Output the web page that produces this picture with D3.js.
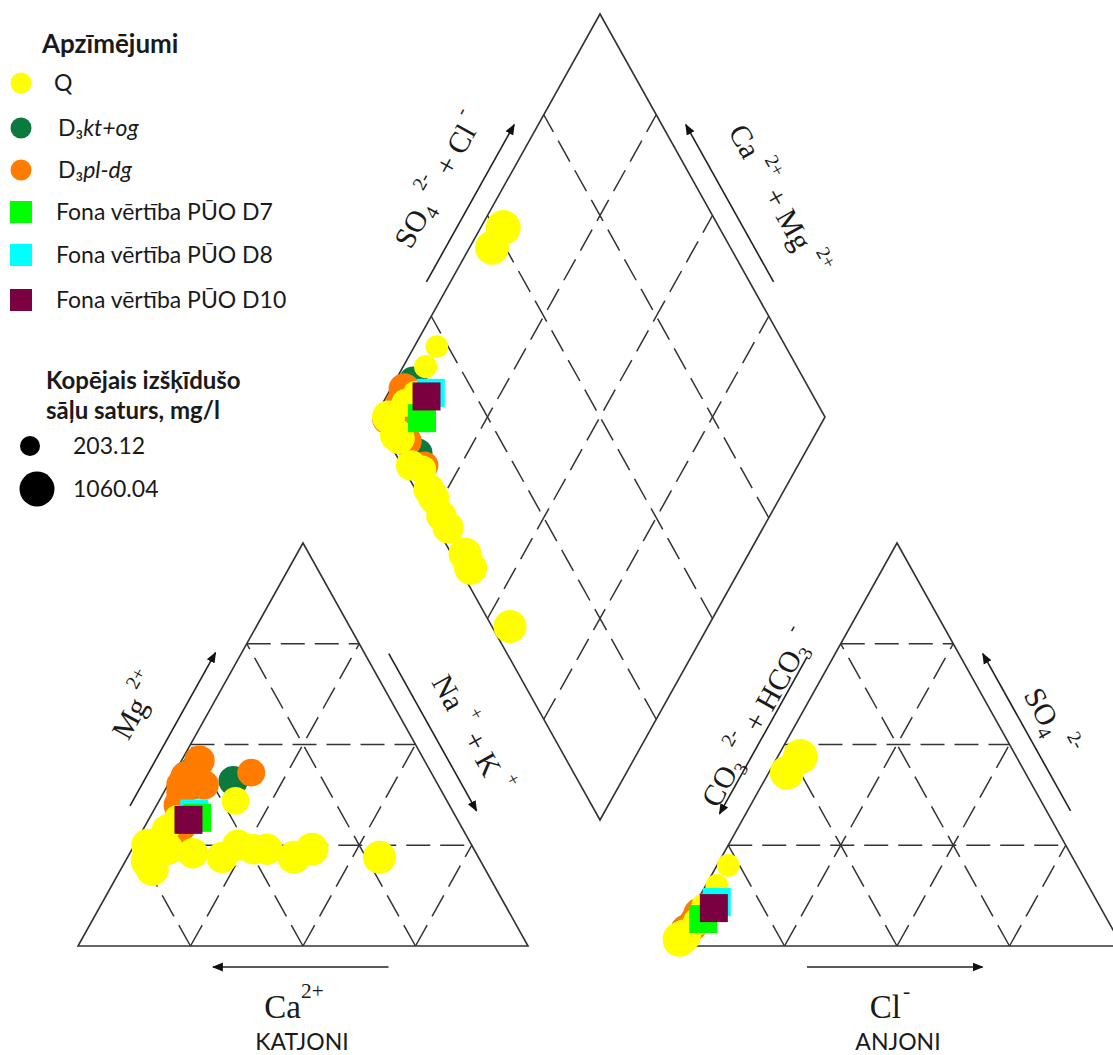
<!DOCTYPE html>
<html>
<head>
<meta charset="utf-8">
<script src="https://cdn.jsdelivr.net/npm/d3@7"></script>
<style>
body { margin: 0; background: #fff; }
svg { display: block; }
</style>
</head>
<body>
<div id="chart"></div>
<script>
// each sample: [Ca, Mg, Na+K, HCO3+CO3, SO4, Cl, TDS mg/l]  (% of meq)
const samplesKtOg = [
	[45, 41, 14, 95, 4, 1, 750],
	[52, 44, 4, 87, 10, 3, 700],
	[68, 24, 8, 97, 2, 1, 400],
	[54, 40, 6, 97.5, 1.5, 1, 650]
]
const samplesPlDg = [
	[55, 42, 3, 90, 8, 2, 850],
	[58, 38, 4, 92, 6, 2, 800],
	[60, 35, 5, 95.5, 3, 1.5, 850],
	[52, 40, 8, 95, 4, 1, 750],
	[58, 32, 10, 96, 3, 1, 800],
	[62, 30, 8, 97, 2, 1, 850],
	[40, 43, 17, 95, 4, 1, 650],
	[57, 40, 3, 97.5, 1.5, 1, 800],
	[65, 28, 7, 97, 2, 1, 800],
	[50, 46, 4, 93, 5, 2, 800],
	[66, 26, 8, 97, 2, 1, 750]
]
const samplesQ = [
	[47, 36, 17, 96, 3, 1, 650],
	[70, 25, 5, 48, 47, 5, 1060],
	[74, 21, 5, 53, 43, 4, 1000],
	[65, 30, 5, 77.5, 20, 2.5, 350],
	[66, 29, 5, 82.5, 15, 2.5, 380],
	[62, 32, 6, 88, 10, 2, 450],
	[66, 29, 5, 91.5, 6, 2.5, 650],
	[72, 25, 3, 97, 2, 1, 950],
	[68, 24, 8, 97.3, 1.5, 1.2, 850],
	[63, 23, 14, 98, 1.2, 0.8, 800],
	[74, 19, 7, 97.5, 1.5, 1, 950],
	[57, 22, 21, 97, 2, 1, 850],
	[52, 25, 23, 97, 2, 1, 850],
	[49, 24, 27, 97.5, 1.5, 1, 800],
	[46, 24, 30, 97.5, 1.5, 1, 850],
	[41, 22, 37, 97, 2, 1, 950],
	[36, 24, 40, 97.5, 1.8, 0.7, 950],
	[22, 22, 56, 96, 2.5, 1.5, 950]
]
// background values: [Ca, Mg, Na+K, HCO3+CO3, SO4, Cl]
const bgD8 = [57.7, 32.9, 9.4, 84.6, 10.9, 4.5]
const bgD7 = [57.6, 31.8, 10.6, 89.7, 6.7, 3.6]
const bgD10 = [59.8, 31.3, 8.9, 86, 9.4, 4.6]

const seriesNames = ['Q', 'D3kt+og', 'D3pl-dg']
const seriesColors = ['#ffff00', '#0b7a3e', '#ff7c00']
const bgNames = ['Fona vērtība PŪO D7', 'Fona vērtība PŪO D8', 'Fona vērtība PŪO D10']
const bgColors = ['#00ff00', '#00ffff', '#7a0042']
const tdsLegend = [203.12, 1060.04]
const gridSteps = [25, 50, 75]

const W = 1113, H = 1055
const SIDE = 450, TH = 403
const BASE_Y = 946
const CAT_X0 = 78, AN_X0 = 672
const DIA_X = 600, DIA_Y = 820
const INK = '#333'
const SERIF = '"Liberation Serif", "Times New Roman", serif'
const SANS = 'Lato, "Open Sans", sans-serif'

const run = d3.scaleLinear().domain([0, 100]).range([0, SIDE])
const halfRun = d3.scaleLinear().domain([0, 100]).range([0, SIDE / 2])
const rise = d3.scaleLinear().domain([0, 100]).range([0, TH])
const rScale = d3.scaleLinear().domain(tdsLegend).range([10, 17.5])

const catPos = (mg, na) => [CAT_X0 + run(na) + halfRun(mg), BASE_Y - rise(mg)]
const anPos = (so4, cl) => [AN_X0 + run(cl) + halfRun(so4), BASE_Y - rise(so4)]
const diaPos = (camg, so4cl) => [DIA_X + halfRun(so4cl) - halfRun(camg), DIA_Y - rise(so4cl) - rise(camg)]

const svg = d3.select('#chart').append('svg')
	.attr('width', W)
	.attr('height', H)

svg.append('defs').append('marker')
	.attr('id', 'arrow')
	.attr('viewBox', '0 0 10 10')
	.attr('refX', 9).attr('refY', 5)
	.attr('markerWidth', 11).attr('markerHeight', 11)
	.attr('markerUnits', 'userSpaceOnUse')
	.attr('orient', 'auto')
	.append('path')
	.attr('d', 'M0,1 L10,5 L0,9 Z')
	.attr('fill', '#111')

const frame = svg.append('g')
const line = d3.line()

// grid lines (dashed)
const gridLines = []
gridSteps.forEach(f => {
	gridLines.push([catPos(f, 0), catPos(f, 100 - f)])
	gridLines.push([catPos(0, f), catPos(100 - f, f)])
	gridLines.push([catPos(0, 100 - f), catPos(100 - f, 0)])
	gridLines.push([anPos(f, 0), anPos(f, 100 - f)])
	gridLines.push([anPos(0, f), anPos(100 - f, f)])
	gridLines.push([anPos(0, 100 - f), anPos(100 - f, 0)])
	gridLines.push([diaPos(0, f), diaPos(100, f)])
	gridLines.push([diaPos(f, 0), diaPos(f, 100)])
})
frame.selectAll('path.grid')
	.data(gridLines)
	.join('path')
	.attr('class', 'grid')
	.attr('d', d => line(d))
	.attr('fill', 'none')
	.attr('stroke', INK)
	.attr('stroke-width', 1.5)
	.attr('stroke-dasharray', '24,10')

// outlines
const outlines = [
	[catPos(0, 0), catPos(0, 100), catPos(100, 0)],
	[anPos(0, 0), anPos(0, 100), anPos(100, 0)],
	[diaPos(0, 0), diaPos(0, 100), diaPos(100, 100), diaPos(100, 0)]
]
frame.selectAll('path.outline')
	.data(outlines)
	.join('path')
	.attr('class', 'outline')
	.attr('d', d => line(d) + 'Z')
	.attr('fill', 'none')
	.attr('stroke', INK)
	.attr('stroke-width', 1.6)

// axis arrows, parallel to the edges
const add = (p, o) => [p[0] + o[0], p[1] + o[1]]
const OFF_L = [-20, -11.2], OFF_R = [18.3, -10.2], OFF_B = [0, 21]
const arrows = [
	[add(catPos(0, 69), OFF_B), add(catPos(0, 30), OFF_B)],
	[add(catPos(32, 0), OFF_L), add(catPos(70, 0), OFF_L)],
	[add(catPos(70, 30), OFF_R), add(catPos(31, 69), OFF_R)],
	[add(anPos(0, 30), OFF_B), add(anPos(0, 69), OFF_B)],
	[add(anPos(69, 0), OFF_L), add(anPos(30, 0), OFF_L)],
	[add(anPos(31, 69), OFF_R), add(anPos(70, 30), OFF_R)],
	[add(diaPos(100, 31), [-18.3, -10.2]), add(diaPos(100, 70), [-18.3, -10.2])],
	[add(diaPos(31, 100), OFF_R), add(diaPos(70, 100), OFF_R)]
]
frame.selectAll('path.arrow')
	.data(arrows)
	.join('path')
	.attr('class', 'arrow')
	.attr('d', d => line(d))
	.attr('stroke', '#222')
	.attr('stroke-width', 1.6)
	.attr('marker-end', 'url(#arrow)')

// rotated labels with sub/superscripts
const label = (x, y, angle, parts, size) => {
	const t = svg.append('text')
		.attr('transform', `translate(${x},${y}) rotate(${angle})`)
		.attr('text-anchor', 'middle')
		.attr('font-family', SERIF)
		.attr('font-size', size)
		.attr('fill', '#1a1a1a')
	let shift = -size * 0.35
	parts.forEach(p => {
		const target = p.sup ? -size * 0.6 : p.sub ? size * 0.22 : 0
		t.append('tspan')
			.attr('dy', target - shift)
			.attr('dx', p.dx || 0)
			.attr('font-size', p.sup || p.sub ? size * 0.65 : size)
			.text(p.t)
		shift = target
	})
}
const EDGE_ANGLE = Math.atan2(TH, SIDE / 2) * 180 / Math.PI

label(136, 706, -EDGE_ANGLE, [{ t: 'Mg' }, { t: '2+', sup: true, dx: 7 }], 30)
label(472, 734, EDGE_ANGLE, [{ t: 'Na' }, { t: '+', sup: true, dx: 9 }, { t: ' + K', dx: 2 }, { t: '+', sup: true, dx: 9 }], 30)
label(294, 1006, 0, [{ t: 'Ca' }, { t: '2+', sup: true }], 33)
label(890, 1006, 0, [{ t: 'Cl' }, { t: '-', sup: true, dx: 2 }], 33)
label(757, 718, -EDGE_ANGLE, [{ t: 'CO' }, { t: '3', sub: true }, { t: '2-', sup: true, dx: 9 }, { t: ' + HCO', dx: 2 }, { t: '3', sub: true }, { t: '-', sup: true, dx: 7 }], 30)
label(1050, 722, EDGE_ANGLE, [{ t: 'SO' }, { t: '4', sub: true }, { t: '2-', sup: true, dx: 9 }], 30)
label(438, 180, -EDGE_ANGLE, [{ t: 'SO' }, { t: '4', sub: true }, { t: '2-', sup: true, dx: 9 }, { t: ' + Cl', dx: 2 }, { t: '-', sup: true, dx: 7 }], 30)
label(778, 200, EDGE_ANGLE, [{ t: 'Ca' }, { t: '2+', sup: true, dx: 9 }, { t: ' + Mg', dx: 2 }, { t: '2+', sup: true, dx: 9 }], 30)

svg.selectAll('text.group')
	.data([['KATJONI', 302], ['ANJONI', 898]])
	.join('text')
	.attr('class', 'group')
	.attr('x', d => d[1])
	.attr('y', 1050)
	.attr('text-anchor', 'middle')
	.attr('font-family', SANS)
	.attr('font-size', 23)
	.attr('fill', '#1a1a1a')
	.text(d => d[0])

// sample points in all three fields
const allSamples = [
	...samplesKtOg.map(d => ({ d, c: seriesColors[1] })),
	...samplesPlDg.map(d => ({ d, c: seriesColors[2] })),
	...samplesQ.map(d => ({ d, c: seriesColors[0] }))
]
const points = []
allSamples.forEach(s => {
	const d = s.d
	points.push({ p: catPos(d[1], d[2]), r: rScale(d[6]), c: s.c })
	points.push({ p: anPos(d[4], d[5]), r: rScale(d[6]), c: s.c })
	points.push({ p: diaPos(d[0] + d[1], d[4] + d[5]), r: rScale(d[6]), c: s.c })
})
svg.append('g')
	.selectAll('circle')
	.data(points)
	.join('circle')
	.attr('cx', d => d.p[0])
	.attr('cy', d => d.p[1])
	.attr('r', d => d.r)
	.attr('fill', d => d.c)

// background squares
const SQ = 28
const bgSets = [[bgD8, bgColors[1]], [bgD7, bgColors[0]], [bgD10, bgColors[2]]]
const squares = []
bgSets.forEach(([d, c]) => {
	squares.push({ p: catPos(d[1], d[2]), c })
	squares.push({ p: anPos(d[4], d[5]), c })
	squares.push({ p: diaPos(d[0] + d[1], d[4] + d[5]), c })
})
svg.append('g')
	.selectAll('rect')
	.data(squares)
	.join('rect')
	.attr('x', d => d.p[0] - SQ / 2)
	.attr('y', d => d.p[1] - SQ / 2)
	.attr('width', SQ)
	.attr('height', SQ)
	.attr('fill', d => d.c)

// legend
const legend = svg.append('g').attr('font-family', SANS).attr('fill', '#1a1a1a')
legend.append('text')
	.attr('x', 42).attr('y', 53)
	.attr('font-size', 26).attr('font-weight', 'bold')
	.text('Apzīmējumi')

const legendRows = [83, 128, 170]
seriesNames.forEach((name, i) => {
	legend.append('circle')
		.attr('cx', 21).attr('cy', legendRows[i]).attr('r', 10.5)
		.attr('fill', seriesColors[i])
	const t = legend.append('text')
		.attr('x', i === 0 ? 54 : 58).attr('y', legendRows[i] + 8)
		.attr('font-size', 23)
	if (i === 0) t.text(name)
	else {
		t.append('tspan').text('D₃')
		t.append('tspan').attr('font-style', 'italic').text(name.slice(2))
	}
})
const bgRows = [212, 255, 300]
bgNames.forEach((name, i) => {
	legend.append('rect')
		.attr('x', 10).attr('y', bgRows[i] - 11)
		.attr('width', 22).attr('height', 22)
		.attr('fill', bgColors[i])
	legend.append('text')
		.attr('x', 56).attr('y', bgRows[i] + 8)
		.attr('font-size', 23)
		.text(name)
})

legend.append('text')
	.attr('x', 46).attr('y', 389)
	.attr('font-size', 24).attr('font-weight', 'bold')
	.text('Kopējais izšķīdušo')
legend.append('text')
	.attr('x', 46).attr('y', 419)
	.attr('font-size', 24).attr('font-weight', 'bold')
	.text('sāļu saturs, mg/l')
const tdsRows = [[30, 446], [37, 489]]
tdsLegend.forEach((v, i) => {
	legend.append('circle')
		.attr('cx', tdsRows[i][0]).attr('cy', tdsRows[i][1])
		.attr('r', rScale(v))
		.attr('fill', '#000')
	legend.append('text')
		.attr('x', 73).attr('y', tdsRows[i][1] + 8)
		.attr('font-size', 23)
		.text(v.toFixed(2))
})
</script>
</body>
</html>
